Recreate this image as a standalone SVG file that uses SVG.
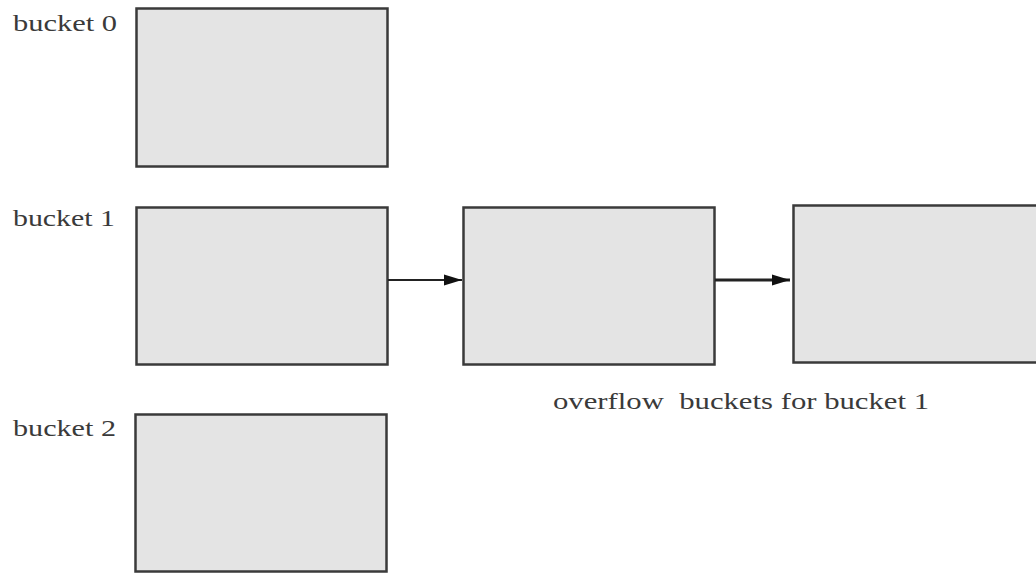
<svg xmlns="http://www.w3.org/2000/svg" width="1036" height="574" viewBox="0 0 1036 574">
<style>
.box{fill:#e4e4e4;stroke:#3a3a3a;stroke-width:2.5}
.lbl{font-family:"Liberation Serif","DejaVu Serif",serif;font-size:24px;fill:#3a3a3a}
.conn{stroke:#222;stroke-width:2.2;fill:none}
</style>
<defs>
<marker id="ah2" viewBox="0 0 18 12" refX="18" refY="6" markerWidth="18" markerHeight="12" markerUnits="userSpaceOnUse" orient="auto">
<path d="M0,0.5 L18,6 L0,11.5 z" fill="#111"/>
</marker>
</defs>
<rect width="1036" height="574" fill="#fff"/>
<g id="bucket0">
<rect class="box" x="136.5" y="8.5" width="251" height="158"/>
<text class="lbl" x="13" y="31" textLength="104" lengthAdjust="spacingAndGlyphs">bucket 0</text>
</g>
<g id="bucket1">
<rect class="box" x="136.5" y="207.5" width="251" height="157"/>
<text class="lbl" x="13" y="226" textLength="102" lengthAdjust="spacingAndGlyphs">bucket 1</text>
</g>
<g id="bucket2">
<rect class="box" x="135.5" y="414.5" width="251" height="157"/>
<text class="lbl" x="13" y="436" textLength="103" lengthAdjust="spacingAndGlyphs">bucket 2</text>
</g>
<g id="overflow1">
<rect class="box" x="463.5" y="207.5" width="251" height="157"/>
</g>
<g id="overflow2">
<rect class="box" x="793.5" y="205.5" width="260" height="157"/>
</g>
<g id="overflow-label">
<text class="lbl" x="553" y="409" textLength="376" lengthAdjust="spacingAndGlyphs" xml:space="preserve">overflow  buckets for bucket 1</text>
</g>
<g id="connectors">
<line class="conn" x1="388" y1="280" x2="462" y2="280" marker-end="url(#ah2)"/>
<line class="conn" x1="715" y1="280" x2="790" y2="280" marker-end="url(#ah2)" style="stroke-width:2.8"/>
</g>
</svg>
